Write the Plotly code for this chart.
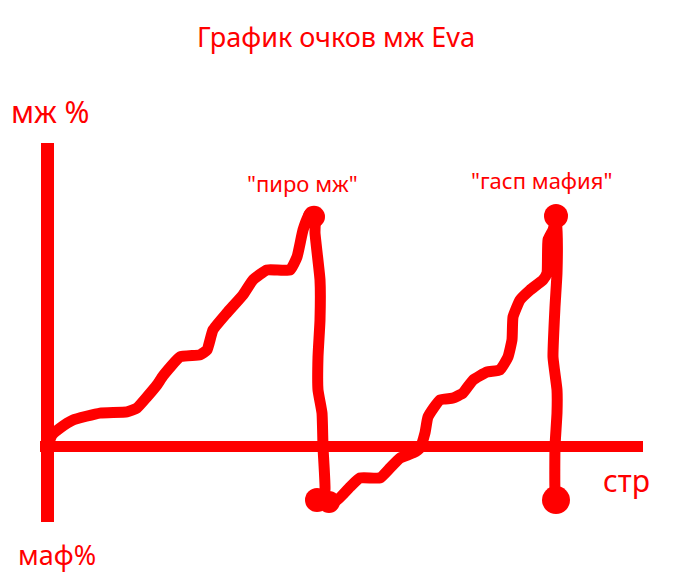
import plotly.graph_objects as go

# стр (x) и мж % (y)
stranitsa = [0.1, 0.5, 1.3, 2.6, 5.3, 8.0, 9.0, 10.0, 11.0, 11.6, 13.3, 15.3, 16.0, 16.6, 18.0,
             19.6, 20.6, 22.0, 24.3, 25.0, 25.6, 26.3, 26.8, 26.8, 27.3, 27.3, 27.1, 27.1, 27.5,
             27.6, 27.8, 27.5, 29.0, 30.3, 31.3, 33.3, 34.3, 35.3, 36.6, 37.3, 37.8, 38.1, 39.3,
             40.6, 41.6, 42.6, 44.0, 45.3, 46.1, 46.5, 46.6, 47.3, 48.3, 49.6, 50.0, 50.1, 50.6,
             51.0, 51.0, 50.8, 50.6, 51.0, 51.0, 50.8, 50.8, 51.0]
mzh_pct = [0.7, 4.0, 6.3, 9.0, 11.3, 11.7, 13.0, 16.7, 20.7, 23.7, 30.0, 30.7, 32.3, 39.0, 44.7,
           50.7, 55.7, 59.0, 59.0, 63.3, 72.3, 78.0, 76.7, 71.3, 55.7, 42.3, 30.0, 19.0, 11.3,
           0.0, -14.3, -17.7, -17.7, -13.3, -10.3, -10.3, -7.0, -3.7, -2.0, -0.3, 4.7, 10.0, 15.7,
           16.3, 18.0, 22.3, 25.0, 25.7, 30.0, 35.7, 43.3, 49.0, 52.3, 55.7, 58.0, 69.0, 72.3,
           77.3, 58.0, 46.7, 30.0, 19.0, 11.3, 0.0, -14.3, -17.7]

# пики и провалы (кляксы)
blob_x = [26.7, 27.0, 28.2, 50.9, 50.9]
blob_y = [76.7, -17.7, -18.3, 77.0, -17.7]
blob_size = [22, 24, 22, 24, 28]

red = '#ff0000'

fig = go.Figure()
fig.add_trace(go.Scatter(x=stranitsa, y=mzh_pct, mode='lines',
                         line=dict(color=red, width=11, shape='spline', smoothing=0.4),
                         hoverinfo='skip'))
fig.add_trace(go.Scatter(x=blob_x, y=blob_y, mode='markers',
                         marker=dict(color=red, size=blob_size, opacity=1, line=dict(width=0)),
                         hoverinfo='skip'))

font = dict(family='Noto Sans', color=red)

# подписи у пиков и у оси стр
notes = [
    dict(x=57.9, y=-11.3, text='стр', size=30),
    dict(x=25.5, y=88.0, text='"пиро мж"', size=22),
    dict(x=49.4, y=89.0, text='"гасп мафия"', size=22),
]
for n in notes:
    fig.add_annotation(x=n['x'], y=n['y'], text=n['text'], showarrow=False,
                       xanchor='center', yanchor='middle', font=dict(font, size=n['size']))

# подписи концов оси y (за пределами области графика)
axis_notes = [
    dict(x=0.017, y=1.084, text='мж %', size=30),
    dict(x=0.028, y=-0.087, text='маф%', size=27),
]
for n in axis_notes:
    fig.add_annotation(x=n['x'], y=n['y'], xref='paper', yref='paper', text=n['text'],
                       showarrow=False, xanchor='center', yanchor='middle',
                       font=dict(font, size=n['size']))

fig.update_xaxes(range=[-0.7, 59.6], showgrid=False, showticklabels=False, ticks='',
                 zeroline=True, zerolinecolor=red, zerolinewidth=13)
fig.update_yaxes(range=[-25, 101.3], showgrid=False, showticklabels=False, ticks='',
                 zeroline=True, zerolinecolor=red, zerolinewidth=11)

# страница добавляет отступ 8px, поэтому поля сдвинуты
fig.update_layout(
    width=682, height=588,
    margin=dict(l=32, r=47, t=135, b=74),
    paper_bgcolor='white', plot_bgcolor='white',
    showlegend=False,
    title=dict(text='График очков мж Eva', x=0.481, xanchor='center',
               y=1 - 30 / 588, yanchor='middle', font=dict(font, size=27)),
)

fig.write_html("out.html")
